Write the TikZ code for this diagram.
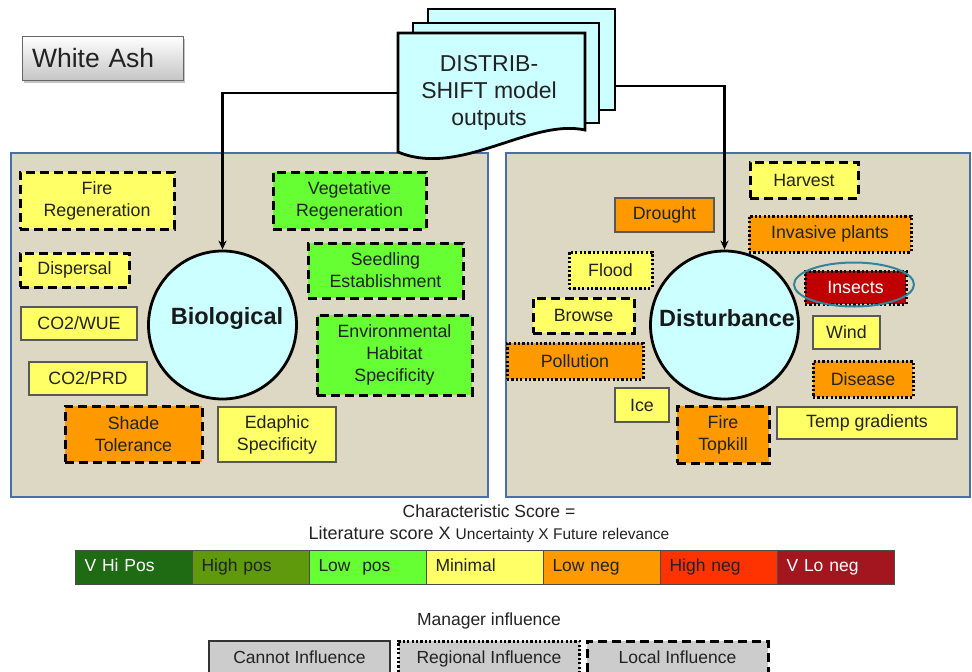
\documentclass[tikz,border=0pt]{standalone}
\usepackage{fontspec}
\setmainfont{Liberation Sans}
\usetikzlibrary{arrows.meta,shadows}
\definecolor{tanbg}{HTML}{DDD8C3}
\definecolor{panelblue}{HTML}{4A6FA5}
\definecolor{cyanfill}{HTML}{CCFFFF}
\definecolor{yel}{HTML}{FFFF66}
\definecolor{grn}{HTML}{66FF33}
\definecolor{org}{HTML}{FF9900}
\definecolor{insred}{HTML}{C00000}
\definecolor{ringteal}{HTML}{31849B}
\definecolor{cA}{HTML}{1E6B14}
\definecolor{cB}{HTML}{5E9A0C}
\definecolor{cC}{HTML}{66FF33}
\definecolor{cD}{HTML}{FFFF66}
\definecolor{cE}{HTML}{FF9900}
\definecolor{cF}{HTML}{FF3300}
\definecolor{cG}{HTML}{A3161F}
\definecolor{txt}{HTML}{222222}
\tikzset{
  box/.style={font=\fontsize{17.8}{22}\selectfont, align=center, inner sep=0pt, text=txt},
  solidb/.style={box, draw=black!65, line width=1.2pt},
  dashb/.style={box, draw=black, line width=3pt, dash pattern=on 9pt off 5pt},
  dotb/.style={box, draw=black, line width=3pt, dash pattern=on 2.2pt off 2.2pt},
  circ/.style={circle, draw=black, line width=2.8pt, fill=cyanfill, minimum size=148pt, inner sep=0pt},
  ctext/.style={font=\fontsize{23.5}{28}\selectfont\bfseries, text=black!90, inner sep=0pt},
  docp/.style={draw=black, line width=2.8pt, fill=cyanfill, line join=miter},
  conn/.style={draw=black, line width=2.6pt, -{Stealth[length=9pt,width=8pt]}},
  panel/.style={draw=panelblue, line width=2pt, fill=tanbg},
  seg/.style={draw=black!70, line width=1pt, anchor=west, minimum height=34pt, text width=99pt, text height=12.5pt, text depth=3.5pt, inner xsep=9pt, inner ysep=0pt, align=left, font=\fontsize{17.5}{20}\selectfont, text=txt},
  mgr/.style={draw=black!80, fill=gray!40, minimum width=181pt, minimum height=36pt, text height=12.5pt, text depth=3.5pt, inner sep=0pt, font=\fontsize{17.5}{20}\selectfont, text=txt},
}
\begin{document}
\begin{tikzpicture}[x=1pt,y=-1pt]
\useasboundingbox (0,0) rectangle (972,672);
\clip (0,0) rectangle (972,672);
\fill[white] (0,0) rectangle (972,672);

% panels
\draw[panel] (11,153) rectangle (488,497);
\draw[panel] (506,153) rectangle (970,497);

% title box
\node[draw=black!60, line width=1pt, top color=white, bottom color=gray!45,
      drop shadow={shadow xshift=2pt, shadow yshift=-3pt, opacity=0.45},
      minimum height=44pt, text width=141pt, inner xsep=10pt, inner ysep=0pt, align=left,
      font=\fontsize{26.5}{30}\selectfont, text=txt] (title) at (102.5,58) {White Ash};

% circles
\node[circ] (bio) at (222.5,325) {};
\node[ctext] (biotext) at (227,318) {Biological};
\node[circ] (dist) at (724.5,325) {};
\node[ctext] (disttext) at (727,318) {Disturbance};

% connectors
\coordinate (docL) at (398,93);
\coordinate (docR) at (615,86);
\draw[conn] (docL) -| (bio.north);
\draw[conn] (docR) -| (dist.north);

% document stack
\draw[docp] (428,9) rectangle (615,110);
\draw[docp] (413,23) rectangle (599,123);
\draw[docp] (398,33) -- (585,33) -- (585,130) .. controls (530,118) and (460,178) .. (398,152) -- cycle;
\node[font=\fontsize{23}{27}\selectfont, align=center, text=txt] (doctext) at (489,93) {DISTRIB-\\SHIFT model\\outputs};

% biological boxes
\node[dashb, fill=yel, minimum width=154pt, minimum height=57pt] (fireregen) at (97,200.5) {Fire\\Regeneration};
\node[dashb, fill=grn, minimum width=153pt, minimum height=57pt] (vegregen) at (349.5,200.5) {Vegetative\\Regeneration};
\node[dashb, fill=yel, minimum width=109pt, minimum height=34pt] (dispersal) at (74.5,270) {Dispersal};
\node[dashb, fill=grn, minimum width=155pt, minimum height=55pt] (seedling) at (385.5,270.5) {Seedling\\Establishment};
\node[solidb, fill=yel, minimum width=116pt, minimum height=33pt] (co2wue) at (79,323.5) {CO2/WUE};
\node[dashb, fill=grn, minimum width=155pt, minimum height=80pt] (envhab) at (394.5,355) {Environmental\\Habitat\\Specificity};
\node[solidb, fill=yel, minimum width=118pt, minimum height=33pt] (co2prd) at (88,378.5) {CO2/PRD};
\node[dashb, fill=org, minimum width=137pt, minimum height=56pt] (shade) at (133.5,434) {Shade\\Tolerance};
\node[solidb, fill=yel, minimum width=118pt, minimum height=55pt] (edaphic) at (277,434.5) {Edaphic\\Specificity};

% disturbance boxes
\node[dashb, fill=yel, minimum width=108pt, minimum height=36pt] (harvest) at (804,180) {Harvest};
\node[solidb, fill=org, minimum width=99pt, minimum height=34pt] (drought) at (664.5,215) {Drought};
\node[dotb, fill=org, minimum width=162pt, minimum height=36pt] (invasive) at (830,234) {Invasive plants};
\node[dotb, fill=yel, minimum width=83pt, minimum height=36pt] (flood) at (610.5,270) {Flood};
\node[dotb, fill=insred, text=white, minimum width=101pt, minimum height=33pt] (insects) at (855.5,287.5) {Insects};
\draw[ringteal, line width=2pt] (854,284.5) ellipse [x radius=60, y radius=22];
\node[dashb, fill=yel, minimum width=101pt, minimum height=35pt] (browse) at (583.5,315.5) {Browse};
\node[solidb, fill=yel, minimum width=67pt, minimum height=33pt] (wind) at (846.5,332.5) {Wind};
\node[dotb, fill=org, minimum width=136pt, minimum height=36pt] (pollution) at (575,361) {Pollution};
\node[dotb, fill=org, minimum width=100pt, minimum height=36pt] (disease) at (863,379) {Disease};
\node[solidb, fill=yel, minimum width=54pt, minimum height=34pt] (ice) at (642,405) {Ice};
\node[dashb, fill=org, minimum width=92pt, minimum height=57pt] (firetop) at (723,434.5) {Fire\\Topkill};
\node[solidb, fill=yel, minimum width=180pt, minimum height=32pt] (temp) at (867,423) {Temp gradients};

% legend
\node[font=\fontsize{17.5}{20}\selectfont, text=txt] (cs) at (489,511) {Characteristic Score =};
\node[text=txt] (cs2) at (489,535) {\fontsize{18}{20}\selectfont Literature score X {\fontsize{15.5}{18}\selectfont Uncertainty X Future relevance}};
\node[seg, fill=cA, text=white] (s1) at (75,567) {V Hi Pos};
\node[seg, fill=cB] (s2) at (192,567) {High pos};
\node[seg, fill=cC] (s3) at (309,567) {Low\ \ pos};
\node[seg, fill=cD] (s4) at (426,567) {Minimal};
\node[seg, fill=cE] (s5) at (543,567) {Low neg};
\node[seg, fill=cF] (s6) at (660,567) {High neg};
\node[seg, fill=cG, text=white] (s7) at (777,567) {V Lo neg};

\node[font=\fontsize{17.5}{20}\selectfont, text=txt] (mi) at (489,621) {Manager influence};
\node[mgr, line width=1.2pt] (cannot) at (299.5,659) {Cannot Influence};
\node[mgr, line width=3pt, dash pattern=on 2.2pt off 2.2pt, draw=black] (regional) at (489,659) {Regional Influence};
\node[mgr, line width=3pt, dash pattern=on 9pt off 5pt, draw=black] (local) at (677.5,659) {Local Influence};
\end{tikzpicture}
\end{document}
